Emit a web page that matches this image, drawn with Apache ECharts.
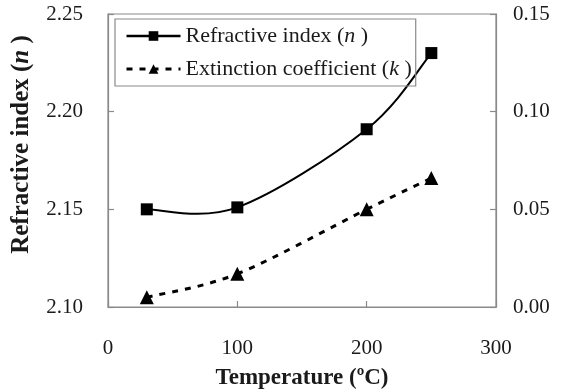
<!DOCTYPE html>
<html>
<head>
<meta charset="utf-8">
<script src="https://cdn.jsdelivr.net/npm/echarts@6/dist/echarts.min.js"></script>
<style>html,body{margin:0;padding:0;background:#fff}#c{width:564px;height:390px}</style>
</head>
<body>
<div id="c"></div>
<script>
const temperature = [30, 100, 200, 250];
const refractiveIndex = [2.150, 2.151, 2.191, 2.230];
const extinctionCoeff = [0.005, 0.017, 0.050, 0.066];
const xTicks = [0, 100, 200, 300];
const nTicks = [2.10, 2.15, 2.20, 2.25];
const kTicks = [0.00, 0.05, 0.10, 0.15];

const FONT = 'Liberation Serif';
const AX = '#8a8a8a';
const TXT = '#1a1a1a';
const K_DASH = [6, 7];

// Excel-style smoothed curve: each data item draws a Bezier segment to the next,
// using pixel coordinates from the chart's own axes (api.coord).
function smoothRenderer(xs, ys, width, dash) {
  return function (params, api) {
    const i = params.dataIndex;
    if (i >= xs.length - 1) return null;
    const P = xs.map((x, j) => api.coord([x, ys[j]]));
    const p0 = P[Math.max(i - 1, 0)], p1 = P[i], p2 = P[i + 1], p3 = P[Math.min(i + 2, P.length - 1)];
    const t = 1 / 6;
    return {
      type: 'bezierCurve',
      shape: {
        x1: p1[0], y1: p1[1], x2: p2[0], y2: p2[1],
        cpx1: p1[0] + (p2[0] - p0[0]) * t, cpy1: p1[1] + (p2[1] - p0[1]) * t,
        cpx2: p2[0] - (p3[0] - p1[0]) * t, cpy2: p2[1] - (p3[1] - p1[1]) * t
      },
      style: {stroke: '#000', lineWidth: width, fill: 'none', lineDash: dash || null},
      silent: true
    };
  };
}

const chart = echarts.init(document.getElementById('c'));
const axisCommon = {
  axisLine: {show: true, lineStyle: {color: AX, width: 1.2}},
  axisTick: {show: true, inside: true, length: 6, lineStyle: {color: AX, width: 1.2}},
  splitLine: {show: false}
};
chart.setOption({
  animation: false,
  backgroundColor: '#fff',
  grid: {left: 108, right: 68, top: 14, bottom: 83, show: true, borderColor: AX, borderWidth: 1.2,
    containLabel: false, outerBoundsMode: 'none'},
  legend: {
    left: 115, top: 19, orient: 'vertical',
    borderColor: AX, borderWidth: 1.2, padding: [6, 4, 6, 10],
    itemWidth: 54, itemHeight: 12, itemGap: 11,
    textStyle: {fontFamily: FONT, fontSize: 22, color: TXT,
      rich: {i: {fontFamily: FONT, fontSize: 22, fontStyle: 'italic', color: TXT}}},
    formatter: function (name) {
      return name === 'n' ? 'Refractive index ({i|n} )' : 'Extinction coefficient ({i|k} )';
    },
    data: [
      {name: 'n', lineStyle: {color: '#000', width: 2.5, type: 'solid', opacity: 1}},
      {name: 'k', lineStyle: {color: '#000', width: 3, type: K_DASH, opacity: 1}}
    ]
  },
  xAxis: Object.assign({}, axisCommon, {
    type: 'value', min: xTicks[0], max: xTicks[xTicks.length - 1], interval: 100,
    name: 'Temperature (ºC)', nameLocation: 'middle', nameGap: 60,
    nameTextStyle: {fontFamily: FONT, fontSize: 23, fontWeight: 'bold', color: TXT},
    axisLabel: {fontFamily: FONT, fontSize: 21, color: TXT, margin: 31}
  }),
  yAxis: [
    Object.assign({}, axisCommon, {
      type: 'value', min: nTicks[0], max: nTicks[nTicks.length - 1], interval: 0.05,
      name: 'Refractive index ({i|n} )', nameLocation: 'middle', nameRotate: 90, nameGap: 74,
      nameTextStyle: {fontFamily: FONT, fontSize: 25, fontWeight: 'bold', color: TXT,
        padding: [0, 0, 0, 32],
        rich: {i: {fontFamily: FONT, fontSize: 25, fontWeight: 'bold', fontStyle: 'italic', color: TXT}}},
      axisLabel: {fontFamily: FONT, fontSize: 21, color: TXT, margin: 25,
        formatter: v => v.toFixed(2)}
    }),
    Object.assign({}, axisCommon, {
      type: 'value', min: kTicks[0], max: kTicks[kTicks.length - 1], interval: 0.05,
      position: 'right',
      axisLabel: {fontFamily: FONT, fontSize: 21, color: TXT, margin: 17,
        formatter: v => v.toFixed(2)}
    })
  ],
  series: [
    {
      name: 'n-curve', type: 'custom', yAxisIndex: 0, z: 1,
      data: temperature.map((t, i) => [t, refractiveIndex[i]]),
      encode: {x: 0, y: 1},
      renderItem: smoothRenderer(temperature, refractiveIndex, 2, null)
    },
    {
      name: 'k-curve', type: 'custom', yAxisIndex: 1, z: 1,
      data: temperature.map((t, i) => [t, extinctionCoeff[i]]),
      encode: {x: 0, y: 1},
      renderItem: smoothRenderer(temperature, extinctionCoeff, 3, K_DASH)
    },
    {
      name: 'n', type: 'line', yAxisIndex: 0, z: 3,
      data: temperature.map((t, i) => [t, refractiveIndex[i]]),
      symbol: 'rect', symbolSize: 12,
      lineStyle: {color: '#000', width: 0, opacity: 0},
      itemStyle: {color: '#000'}
    },
    {
      name: 'k', type: 'line', yAxisIndex: 1, z: 3,
      data: temperature.map((t, i) => [t, extinctionCoeff[i]]),
      symbol: 'triangle', symbolSize: 14,
      lineStyle: {color: '#000', width: 0, opacity: 0},
      itemStyle: {color: '#000'}
    }
  ]
});
</script>
</body>
</html>
